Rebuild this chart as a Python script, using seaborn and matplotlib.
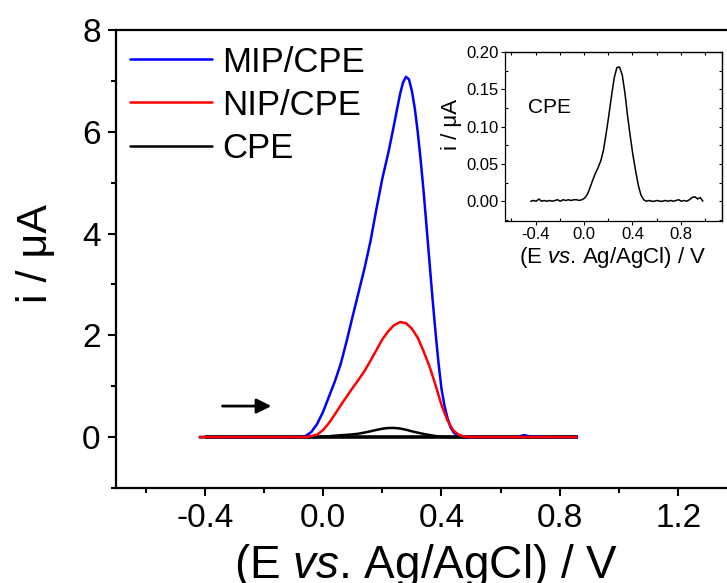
import matplotlib
matplotlib.use("Agg")
import matplotlib.pyplot as plt
from matplotlib.lines import Line2D
from matplotlib.ticker import MultipleLocator, FormatStrFormatter
import pandas as pd
import seaborn as sns

# Potential sweep (V vs. Ag/AgCl) for the NIP and bare CPE scans
E = [-0.42, -0.40, -0.38, -0.36, -0.34, -0.32, -0.30, -0.28, -0.26, -0.24,
     -0.22, -0.20, -0.18, -0.16, -0.14, -0.12, -0.10, -0.08, -0.06, -0.04,
     -0.02, 0.00, 0.02, 0.04, 0.06, 0.08, 0.10, 0.12, 0.14, 0.16,
     0.18, 0.20, 0.22, 0.24, 0.26, 0.28, 0.30, 0.32, 0.34, 0.36,
     0.38, 0.40, 0.42, 0.44, 0.46, 0.48, 0.50, 0.52, 0.54, 0.56,
     0.58, 0.60, 0.62, 0.64, 0.66, 0.68, 0.70, 0.72, 0.74, 0.76,
     0.78, 0.80, 0.82, 0.84, 0.86]

# Potential sweep for the MIP scan (denser around the peak)
E_mip = [-0.42, -0.40, -0.36, -0.32, -0.28, -0.24, -0.20, -0.16, -0.12, -0.10,
         -0.08, -0.06, -0.04, -0.02, 0.00, 0.02, 0.04, 0.06, 0.08, 0.10,
         0.12, 0.14, 0.16, 0.18, 0.20, 0.21, 0.22, 0.23, 0.24, 0.25,
         0.26, 0.27, 0.28, 0.29, 0.30, 0.31, 0.32, 0.33, 0.34, 0.35,
         0.36, 0.37, 0.38, 0.39, 0.40, 0.41, 0.42, 0.43, 0.44, 0.45,
         0.46, 0.48, 0.52, 0.56, 0.60, 0.64, 0.66, 0.68, 0.70, 0.74,
         0.78, 0.82, 0.86]

# Current (uA) for the molecularly imprinted electrode
i_mip = [0.00, 0.00, 0.00, 0.00, 0.00, 0.00, 0.00, 0.00, 0.00, 0.00,
         0.00, 0.02, 0.10, 0.26, 0.50, 0.80, 1.10, 1.45, 1.90, 2.38,
         2.85, 3.32, 3.85, 4.48, 5.08, 5.33, 5.58, 5.86, 6.15, 6.45,
         6.74, 6.97, 7.08, 7.03, 6.80, 6.45, 5.98, 5.42, 4.80, 4.10,
         3.40, 2.70, 2.05, 1.45, 0.95, 0.62, 0.38, 0.20, 0.10, 0.04,
         0.01, 0.00, 0.00, 0.00, 0.00, 0.00, 0.01, 0.04, 0.01, 0.00,
         0.00, 0.00, 0.00]

# Current (uA) for the non-imprinted electrode
i_nip = [0.00, 0.00, 0.00, 0.00, 0.00, 0.00, 0.00, 0.00, 0.00, 0.00,
         0.00, 0.00, 0.00, 0.00, 0.00, 0.00, 0.00, 0.00, 0.00, 0.02,
         0.05, 0.14, 0.28, 0.45, 0.63, 0.80, 0.97, 1.13, 1.30, 1.50,
         1.71, 1.92, 2.08, 2.20, 2.26, 2.24, 2.13, 1.95, 1.68, 1.38,
         1.02, 0.63, 0.33, 0.13, 0.04, 0.01, 0.00, 0.00, 0.00, 0.00,
         0.00, 0.00, 0.00, 0.00, 0.00, 0.00, 0.00, 0.00, 0.00, 0.00,
         0.00, 0.00, 0.00, 0.00, 0.00]

# Current (uA) for the bare carbon paste electrode
i_cpe = [0.000, 0.001, 0.000, 0.003, 0.000, 0.001, 0.000, 0.001, 0.000, 0.001,
         0.002, 0.000, 0.002, 0.001, 0.002, 0.001, 0.002, 0.002, 0.001, 0.002,
         0.004, 0.009, 0.018, 0.028, 0.037, 0.045, 0.054, 0.068, 0.090, 0.114,
         0.141, 0.165, 0.179, 0.180, 0.169, 0.145, 0.114, 0.087, 0.062, 0.040,
         0.021, 0.008, 0.002, 0.000, 0.001, 0.000, 0.000, 0.001, 0.000, 0.000,
         0.001, 0.000, 0.001, 0.000, 0.001, 0.002, 0.000, 0.001, 0.000, 0.002,
         0.005, 0.006, 0.003, 0.005, 0.000]

# Potential axis of the bare-CPE scan shown in the inset
E_inset = [-0.440, -0.418, -0.396, -0.373, -0.351, -0.329, -0.307, -0.284, -0.262, -0.240,
           -0.218, -0.196, -0.173, -0.151, -0.129, -0.107, -0.084, -0.062, -0.040, -0.018,
           0.004, 0.027, 0.049, 0.071, 0.093, 0.116, 0.138, 0.160, 0.182, 0.204,
           0.227, 0.249, 0.271, 0.293, 0.316, 0.338, 0.360, 0.382, 0.404, 0.427,
           0.449, 0.471, 0.493, 0.516, 0.538, 0.560, 0.582, 0.604, 0.627, 0.649,
           0.671, 0.693, 0.716, 0.738, 0.760, 0.782, 0.804, 0.827, 0.849, 0.871,
           0.893, 0.916, 0.938, 0.960, 0.982]

electrodes = ["MIP/CPE", "NIP/CPE", "CPE"]
colors = {"MIP/CPE": "#0000ff", "NIP/CPE": "#ff0000", "CPE": "#000000"}

x_ticks_main = [-0.4, 0.0, 0.4, 0.8, 1.2]
y_ticks_main = [0, 2, 4, 6, 8]

sns.set_theme(style="ticks")
plt.rcParams["font.family"] = ["Liberation Sans", "DejaVu Sans"]
plt.rcParams["mathtext.fontset"] = "custom"
plt.rcParams["mathtext.rm"] = "Liberation Sans"
plt.rcParams["mathtext.it"] = "Liberation Sans:italic"
plt.rcParams["axes.unicode_minus"] = False
plt.rcParams["text.color"] = "black"
plt.rcParams["axes.labelcolor"] = "black"
plt.rcParams["xtick.color"] = "black"
plt.rcParams["ytick.color"] = "black"

df = pd.DataFrame({
    "E": E_mip + E + E,
    "i": i_mip + i_nip + i_cpe,
    "electrode": [electrodes[0]] * len(E_mip) + [electrodes[1]] * len(E) + [electrodes[2]] * len(E),
})

fig = plt.figure(figsize=(7.27, 5.83), dpi=100)
ax = fig.add_axes([116 / 727, 1 - 488 / 583, 621.4 / 727, 458 / 583])

# zero-current reference line beneath the scans
ax.plot([E[1], E[-1]], [0, 0], color="black", lw=2.6, zorder=1, solid_capstyle="butt")

sns.lineplot(data=df, x="E", y="i", hue="electrode", hue_order=electrodes,
             palette=colors, sort=False, estimator=None, lw=1.8,
             legend=False, ax=ax)
for line in ax.lines[1:]:
    line.set_solid_capstyle("butt")
    line.set_solid_joinstyle("round")
# keep the red trace visible above the others along the baseline
ax.lines[1].set_zorder(2.2)
ax.lines[2].set_zorder(2.4)
ax.lines[3].set_zorder(2.3)

ax.set_xlim(-0.7, 1.4)
ax.set_ylim(-1, 8)
ax.set_xticks(x_ticks_main)
ax.set_yticks(y_ticks_main)
ax.xaxis.set_minor_locator(MultipleLocator(0.2))
ax.yaxis.set_minor_locator(MultipleLocator(1))
ax.xaxis.set_major_formatter(FormatStrFormatter("%.1f"))
ax.yaxis.set_major_formatter(FormatStrFormatter("%d"))
ax.tick_params(which="major", direction="out", length=6, width=1.5,
               labelsize=24, pad=5, colors="black")
ax.tick_params(which="minor", direction="out", length=3.5, width=1.5)
for s in ax.spines.values():
    s.set_linewidth(1.6)
    s.set_color("black")

ax.set_xlabel(r"(E $\mathit{vs}$. Ag/AgCl) / V", fontsize=33)
ax.set_ylabel("i / μA", fontsize=31)
ax.xaxis.set_label_coords(0.499, -0.117)
ax.yaxis.set_label_coords(-0.097, 0.511)

# sweep direction
ax.annotate("", xy=(-0.175, 0.61), xytext=(-0.34, 0.61),
            arrowprops=dict(arrowstyle="-|>", color="black", lw=2,
                            mutation_scale=22, shrinkA=0, shrinkB=0))

handles = [Line2D([], [], color=colors[k], lw=1.8) for k in electrodes]
ax.legend(handles, electrodes, loc="upper left", bbox_to_anchor=(0.0225, 0.966),
          frameon=False, fontsize=25, handlelength=2.36, handletextpad=0.29,
          labelspacing=0.29, borderpad=0, borderaxespad=0)

# inset: bare CPE on its own current scale
axi = fig.add_axes([505 / 727, 1 - 221 / 583, 217 / 727, 169 / 583])
sns.lineplot(x=E_inset, y=i_cpe, color="black", lw=1.1, sort=False,
             estimator=None, ax=axi)
axi.set_xlim(-0.653, 1.14)
axi.set_ylim(-0.0265, 0.2)
axi.xaxis.set_major_locator(MultipleLocator(0.4))
axi.xaxis.set_minor_locator(MultipleLocator(0.2))
axi.yaxis.set_major_locator(MultipleLocator(0.05))
axi.yaxis.set_minor_locator(MultipleLocator(0.025))
axi.xaxis.set_major_formatter(FormatStrFormatter("%.1f"))
axi.yaxis.set_major_formatter(FormatStrFormatter("%.2f"))
axi.tick_params(which="major", direction="out", length=3, width=0.8,
                labelsize=12, pad=1.5, colors="black")
axi.tick_params(which="minor", direction="in", length=2, width=0.8)
for s in axi.spines.values():
    s.set_linewidth(0.9)
    s.set_color("black")
top = axi.secondary_xaxis("top")
top.xaxis.set_major_locator(MultipleLocator(0.2))
top.tick_params(direction="in", length=2, width=0.8, labeltop=False)
top.spines["top"].set_linewidth(0.9)
right = axi.secondary_yaxis("right")
right.yaxis.set_major_locator(MultipleLocator(0.025))
right.tick_params(direction="in", length=2, width=0.8, labelright=False)
right.spines["right"].set_linewidth(0.9)

axi.set_xlabel(r"(E $\mathit{vs}$. Ag/AgCl) / V", fontsize=16)
axi.set_ylabel("i / μA", fontsize=16)
axi.xaxis.set_label_coords(0.496, -0.142)
axi.yaxis.set_label_coords(-0.198, 0.572)
axi.text(0.106, 0.669, "CPE", transform=axi.transAxes, fontsize=15,
         ha="left", va="center")

fig.savefig("out.png", dpi=100)
